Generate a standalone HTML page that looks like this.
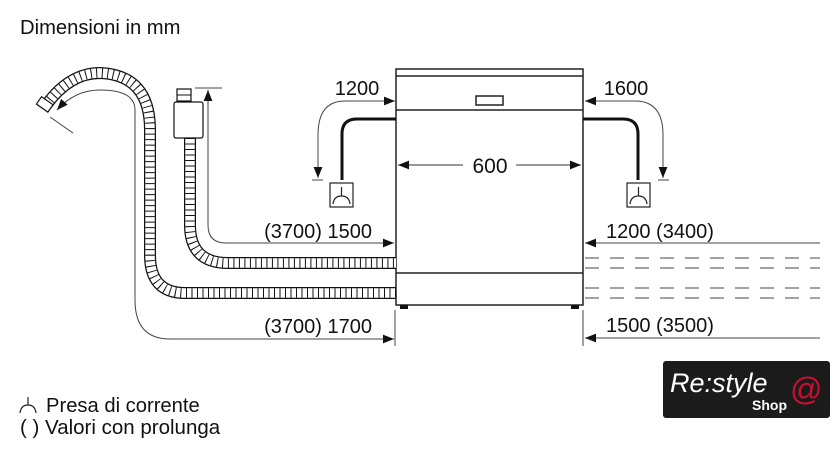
<!DOCTYPE html>
<html><head><meta charset="utf-8"><style>
body{margin:0;background:#fff;width:840px;height:459px;overflow:hidden}
svg{display:block}
text{font-family:"Liberation Sans",Arial,sans-serif;fill:#111}
</style></head><body>
<svg width="840" height="459" viewBox="0 0 840 459" xmlns="http://www.w3.org/2000/svg">
<defs>
<marker id="a" viewBox="0 0 10 10" refX="10" refY="5" markerWidth="12" markerHeight="11" orient="auto-start-reverse" markerUnits="userSpaceOnUse"><path d="M0,1 L10,5 L0,9z" fill="#111"/></marker>
</defs>
<text x="20" y="34" font-size="20.2">Dimensioni in mm</text>

<g fill="none" stroke="#222" stroke-width="1.5">
<rect x="396" y="69" width="187" height="236"/>
<line x1="396" y1="76" x2="583" y2="76"/>
<line x1="396" y1="110" x2="583" y2="110"/>
<line x1="396" y1="273" x2="583" y2="273"/>
<rect x="476" y="96" width="27" height="9"/>
</g>
<rect x="400" y="305" width="8" height="4" fill="#111"/>
<rect x="571" y="305" width="8" height="4" fill="#111"/>

<g stroke="#333" stroke-width="1" fill="none">
<line x1="398" y1="165" x2="463" y2="165" marker-start="url(#a)"/>
<line x1="516" y1="165" x2="581" y2="165" marker-end="url(#a)"/>
</g>
<text x="490" y="173" font-size="21" text-anchor="middle">600</text>

<g fill="none" stroke="#111" stroke-width="3">
<path d="M396,119 H357 Q342,119 342,134 V180"/>
<path d="M583,119 H623 Q638,119 638,134 V180"/>
</g>
<g fill="none" stroke="#444" stroke-width="1">
<path d="M395,101 H345 Q318,101 318,135 V178" marker-start="url(#a)" marker-end="url(#a)"/>
<line x1="312" y1="180" x2="323" y2="180"/>
<path d="M585,101 H635 Q663,101 663,135 V178" marker-start="url(#a)" marker-end="url(#a)"/>
<line x1="658" y1="180" x2="669" y2="180"/>
</g>
<g fill="none" stroke="#222" stroke-width="1.2">
<rect x="330" y="183" width="23" height="24"/>
<path d="M341.5,187 V196 M333,204 Q334,196 341.5,196 Q349,196 350,204"/>
<rect x="627" y="183" width="23" height="24"/>
<path d="M638.5,187 V196 M630,204 Q631,196 638.5,196 Q646,196 647,204"/>
</g>
<text x="357" y="95" font-size="20" text-anchor="middle">1200</text>
<text x="626" y="95" font-size="20" text-anchor="middle">1600</text>

<g fill="none">
<path d="M190,138 V225 Q190,263 228,263 H396" stroke="#111" stroke-width="12"/>
<path d="M190,138 V225 Q190,263 228,263 H396" stroke="#fff" stroke-width="9.5"/>
<path d="M190,138 V225 Q190,263 228,263 H396" stroke="#111" stroke-width="9.5" stroke-dasharray="1 4.5"/>
<path d="M396,293 H185 Q150,293 150,255 V130 Q150,75 100,73 Q70,73 47,104" stroke="#111" stroke-width="12"/>
<path d="M396,293 H185 Q150,293 150,255 V130 Q150,75 100,73 Q70,73 47,104" stroke="#fff" stroke-width="9.5"/>
<path d="M396,293 H185 Q150,293 150,255 V130 Q150,75 100,73 Q70,73 47,104" stroke="#111" stroke-width="9.5" stroke-dasharray="1 4.5"/>
</g>
<rect x="38" y="100" width="14" height="9" transform="rotate(35 45 104)" fill="#fff" stroke="#111" stroke-width="1.2"/>
<rect x="174" y="102" width="29" height="36" rx="2" fill="#fff" stroke="#111" stroke-width="1.2"/>
<rect x="177" y="89" width="14" height="12" fill="#fff" stroke="#111" stroke-width="1.2"/>
<line x1="177" y1="95" x2="191" y2="95" stroke="#111"/>

<g fill="none" stroke="#444" stroke-width="1">
<line x1="195" y1="88" x2="222" y2="88"/>
<path d="M208,90 V225 Q208,243 226,243 H394" marker-start="url(#a)" marker-end="url(#a)"/>
<path d="M394,339 H170 Q135,339 135,300 V110 Q135,90 100,90 Q75,90 57,110" marker-start="url(#a)" marker-end="url(#a)"/>
<line x1="50" y1="117" x2="73" y2="133"/>
<line x1="395" y1="310" x2="395" y2="346"/>
<line x1="583" y1="310" x2="583" y2="346"/>
</g>
<text x="372" y="238" font-size="20" text-anchor="end">(3700) 1500</text>
<text x="372" y="333" font-size="20" text-anchor="end">(3700) 1700</text>

<g fill="none" stroke="#444" stroke-width="1">
<line x1="585" y1="243" x2="820" y2="243" marker-start="url(#a)"/>
<line x1="585" y1="338" x2="820" y2="338" marker-start="url(#a)"/>
<g stroke-dasharray="14 11">
<line x1="585" y1="258" x2="820" y2="258"/>
<line x1="585" y1="268" x2="820" y2="268"/>
<line x1="585" y1="288" x2="820" y2="288"/>
<line x1="585" y1="298" x2="820" y2="298"/>
</g>
</g>
<text x="606" y="238" font-size="20">1200 (3400)</text>
<text x="606" y="332" font-size="20">1500 (3500)</text>

<g fill="none" stroke="#222" stroke-width="1.2">
<path d="M28,397 V405 M20,413 Q21,405 28,405 Q35,405 36,413"/>
</g>
<text x="46" y="412" font-size="20.2">Presa di corrente</text>
<text x="20" y="434" font-size="20.5">( ) Valori con prolunga</text>

<rect x="663" y="361" width="167" height="57" rx="3" fill="#1b1b1b"/>
<text x="670" y="392" font-size="27" font-style="italic" style="fill:#fff">Re:style</text>
<text x="752" y="410" font-size="14" font-weight="bold" style="fill:#fff">Shop</text>
<text x="790" y="400" font-size="32" style="fill:#c8102e">@</text>
</svg>
</body></html>
